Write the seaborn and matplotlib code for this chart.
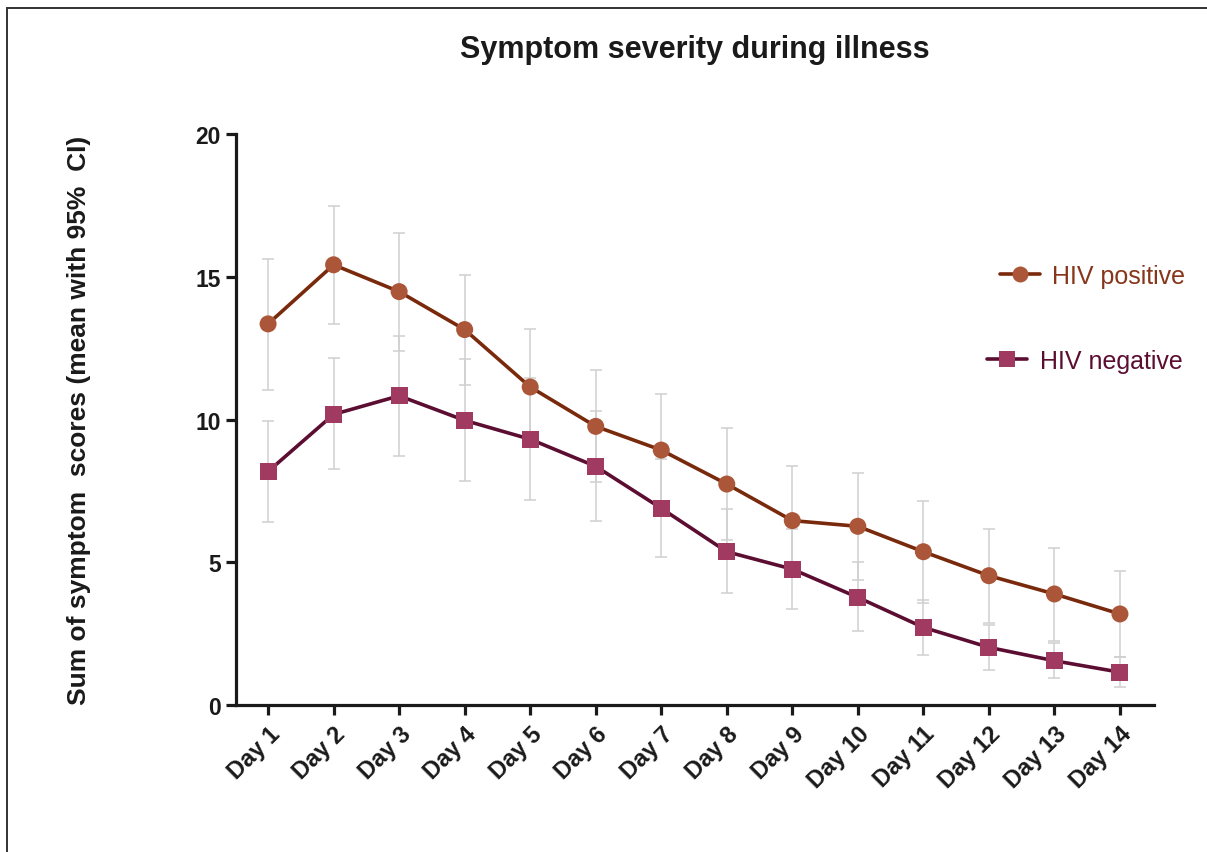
import numpy as np
import pandas as pd
import matplotlib
matplotlib.use("Agg")
import matplotlib.pyplot as plt
from matplotlib.lines import Line2D
from matplotlib.patches import Rectangle
import seaborn as sns

# Daily symptom score: mean and 95% CI per group
days = [f"Day {i}" for i in range(1, 15)]

pos_mean = [13.35, 15.42, 14.48, 13.15, 11.14, 9.76, 8.93, 7.74, 6.46, 6.26, 5.37, 4.53, 3.89, 3.19]
pos_upper = [15.62, 17.49, 16.53, 15.07, 13.17, 11.75, 10.89, 9.69, 8.38, 8.11, 7.16, 6.16, 5.50, 4.68]
pos_lower = [11.05, 13.35, 12.41, 11.22, 9.12, 7.80, 6.98, 5.79, 4.54, 4.38, 3.58, 2.88, 2.25, 1.69]

neg_mean = [8.18, 10.18, 10.83, 9.97, 9.31, 8.36, 6.89, 5.37, 4.76, 3.77, 2.72, 2.02, 1.55, 1.15]
neg_upper = [9.96, 12.14, 12.94, 12.12, 11.44, 10.29, 8.62, 6.87, 6.18, 5.02, 3.69, 2.80, 2.18, 1.69]
neg_lower = [6.42, 8.27, 8.73, 7.86, 7.18, 6.43, 5.17, 3.91, 3.36, 2.58, 1.75, 1.24, 0.95, 0.64]

groups = ["HIV positive", "HIV negative"]

line_colors = {"HIV positive": "#7a2a0c", "HIV negative": "#5c0e32"}
marker_colors = {"HIV positive": "#ab5638", "HIV negative": "#a03a60"}
text_colors = {"HIV positive": "#86361a", "HIV negative": "#5c0e32"}
marker_shapes = {"HIV positive": "o", "HIV negative": "s"}

df = pd.DataFrame({
    "day": days * 2,
    "x": list(range(len(days))) * 2,
    "score": pos_mean + neg_mean,
    "lower": pos_lower + neg_lower,
    "upper": pos_upper + neg_upper,
    "group": [groups[0]] * len(days) + [groups[1]] * len(days),
})

sns.set_style("ticks")
plt.rcParams["font.family"] = ["Liberation Sans", "DejaVu Sans"]

fig = plt.figure(figsize=(12.07, 8.53), dpi=100)
ax = fig.add_axes([0.1955, 0.1723, 0.7606, 0.6694])

# confidence intervals in light grey behind the lines
for g in groups:
    sub = df[df["group"] == g]
    ax.errorbar(sub["x"], sub["score"],
                yerr=[sub["score"] - sub["lower"], sub["upper"] - sub["score"]],
                fmt="none", ecolor="#d0d0d0", elinewidth=1.1, capsize=4.3,
                capthick=1.1, zorder=1)

sns.lineplot(data=df, x="x", y="score", hue="group", palette=line_colors,
             hue_order=groups, linewidth=2.6, legend=False, ax=ax, zorder=2)
sns.scatterplot(data=df, x="x", y="score", hue="group", style="group",
                palette=marker_colors, markers=marker_shapes, hue_order=groups,
                style_order=groups, s=150, linewidth=0, legend=False, ax=ax,
                zorder=3)

ax.set_xlim(-0.49, 13.52)
ax.set_ylim(0, 20)
ax.set_yticks([0, 5, 10, 15, 20])
ax.set_xticks(range(len(days)))
ax.set_xticklabels(days, rotation=45, ha="right", rotation_mode="anchor")

for lab in ax.get_xticklabels():
    lab.set_fontweight("bold")
    lab.set_fontsize(17)
    lab.set_color("#1a1a1a")
for lab in ax.get_yticklabels():
    lab.set_fontweight("bold")
    lab.set_fontsize(16.5)
    lab.set_color("#1a1a1a")

ax.tick_params(axis="both", direction="out", length=7, width=2.3,
               color="#1a1a1a", pad=4)
ax.tick_params(axis="x", pad=5)
for side in ["left", "bottom"]:
    ax.spines[side].set_linewidth(2.3)
    ax.spines[side].set_color("#1a1a1a")
sns.despine(ax=ax)

ax.set_xlabel("")
ax.set_ylabel("Sum of symptom  scores (mean with 95%  CI)", fontsize=19,
              fontweight="bold", color="#1a1a1a")
ax.yaxis.set_label_coords(-0.158, 0.5)

fig.text(0.5754, 0.941, "Symptom severity during illness", ha="center",
         va="center", fontsize=22, fontweight="bold", color="#1a1a1a")

# one legend per group, each with its own text colour
leg_pos = ax.legend(
    handles=[Line2D([], [], color=line_colors[groups[0]], lw=2.6,
                    marker="o", markersize=11.5, markeredgewidth=0,
                    markerfacecolor=marker_colors[groups[0]])],
    labels=[groups[0]], loc="center left", bbox_to_anchor=(0.8077, 0.751),
    frameon=False, fontsize=18, handlelength=1.6, handletextpad=0.5,
    labelcolor=[text_colors[groups[0]]])
ax.add_artist(leg_pos)
ax.legend(
    handles=[Line2D([], [], color=line_colors[groups[1]], lw=2.6,
                    marker="s", markersize=11, markeredgewidth=0,
                    markerfacecolor=marker_colors[groups[1]])],
    labels=[groups[1]], loc="center left", bbox_to_anchor=(0.7936, 0.6025),
    frameon=False, fontsize=18, handlelength=1.6, handletextpad=0.5,
    labelcolor=[text_colors[groups[1]]])

# open frame along the left and top edges of the figure
fig.patches.append(Rectangle((7 / 1207, -0.5), 2.0, 0.5 + (1 - 9 / 853),
                             transform=fig.transFigure, fill=False,
                             edgecolor="#333333", linewidth=1.4))

fig.savefig("out.png", dpi=100)
